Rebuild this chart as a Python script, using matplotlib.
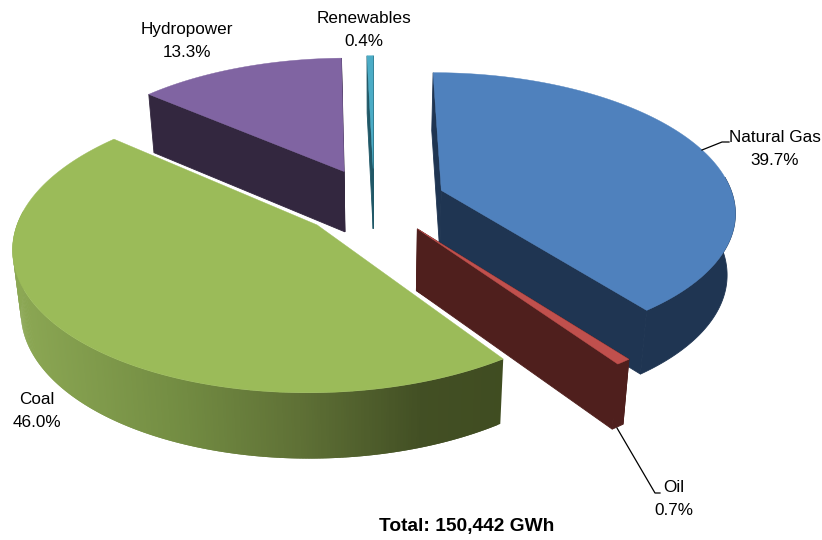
import numpy as np
import matplotlib
matplotlib.use("Agg")
import matplotlib.pyplot as plt
from matplotlib.patches import Polygon

plt.rcParams['font.family'] = ['Liberation Sans', 'DejaVu Sans']

# generation mix, clockwise from twelve o'clock
fuels = ['Natural Gas', 'Oil', 'Coal', 'Hydropower', 'Renewables']
shares = [39.7, 0.7, 46.0, 13.3, 0.4]
total_label = 'Total: 150,442 GWh'

top_colors = ['#4f81bd', '#c0504d', '#9bbb59', '#8064a2', '#4bacc6']
side_colors = ['#1f3552', '#4f1f1d', None, '#33273f', '#205867']
explode = [0.245, 0.245, 0.255, 0.245, 0.245]

# coal wall is shaded left to right
coal_stops_x = [15, 180, 300, 420, 505]
coal_stops_rgb = [(0.55, 0.66, 0.33), (0.45, 0.55, 0.26), (0.37, 0.44, 0.21),
                  (0.26, 0.31, 0.14), (0.25, 0.30, 0.13)]

# projection of the tilted disc, in pixels
CX, CY = 374, 201
A, B = 293, 137
P = 0.14        # perspective strength
DEPTH = 61
SHRINK = 0.977  # lower rim is a bit narrower

draw_order = [3, 4, 0, 1, 2]

label_pos = {
    'Natural Gas': (775, 149),
    'Oil': (674, 499),
    'Coal': (37, 411),
    'Hydropower': (187, 41),
    'Renewables': (364, 30),
}


def project(x, y, lower=False):
    s = 1 / (1 + P * y)
    px = CX + A * x * s
    py = CY - B * y * s
    if lower:
        px = CX + (px - CX) * SHRINK
        py = py + DEPTH * (1 + 0.4 * (s - 1))
    return np.column_stack([px, py])


def coal_shade(px):
    return tuple(np.interp(px, coal_stops_x, [c[k] for c in coal_stops_rgb]) for k in range(3))


def draw_slice(ax, start, end, offset, top, side):
    mid = (start + end) / 2
    ox = offset * np.sin(mid)
    oy = offset * np.cos(mid)
    n = max(int((end - start) * 120), 6)
    t = np.linspace(start, end, n)
    x = ox + np.sin(t)
    y = oy + np.cos(t)

    rim_up = project(x, y)
    rim_lo = project(x, y, lower=True)
    apex_up = project(np.array([ox]), np.array([oy]))
    apex_lo = project(np.array([ox]), np.array([oy]), lower=True)
    face = np.vstack([apex_up, rim_up])
    face_patch = Polygon(face, closed=True, fc=top, ec=top, lw=0.3)

    # radial cut faces, skipped when they sit behind the top of the slice
    for i in (0, -1):
        quad = np.vstack([apex_up, rim_up[[i]], rim_lo[[i]], apex_lo])
        edge_mid = (apex_lo[0] + rim_lo[i]) / 2
        if face_patch.get_path().contains_point(edge_mid):
            continue
        c = side if side is not None else coal_shade(quad[:, 0].max())
        ax.add_patch(Polygon(quad, closed=True, fc=c, ec=c, lw=0.6))

    # outer wall, only the part of the rim that faces the viewer
    front = np.cos(t) < 0.1
    rim_up = rim_up[front]
    rim_lo = rim_lo[front]
    if len(rim_up) > 1:
        if side is not None:
            wall = np.vstack([rim_up, rim_lo[::-1]])
            ax.add_patch(Polygon(wall, closed=True, fc=side, ec=side, lw=0.6))
        else:
            # overlapping strips so the gradient shows no seams
            for i in range(len(rim_up) - 1):
                quad = np.vstack([rim_up[i:i + 3], rim_lo[i:i + 3][::-1]])
                c = coal_shade(quad[:, 0].mean())
                ax.add_patch(Polygon(quad, closed=True, fc=c, ec='none', lw=0))

    ax.add_patch(face_patch)


fig = plt.figure(figsize=(8.22, 5.4), dpi=100)
ax = fig.add_axes([0, 0, 1, 1])
ax.set_xlim(0, 822)
ax.set_ylim(540, 0)
ax.axis('off')

bounds = np.concatenate([[0], np.cumsum(shares)]) / np.sum(shares) * 2 * np.pi
for i in draw_order:
    draw_slice(ax, bounds[i], bounds[i + 1], explode[i], top_colors[i], side_colors[i])

# leader lines
ax.plot([702, 722, 729], [150, 142, 142], color='black', lw=0.9)
ax.plot([617, 655, 660], [428, 493, 493], color='black', lw=0.9)

for name, share in zip(fuels, shares):
    lx, ly = label_pos[name]
    ax.text(lx, ly, f'{name}\n{share:.1f}%', ha='center', va='center',
            fontsize=12.3, linespacing=1.72, color='black')

ax.text(467, 526, total_label, ha='center', va='center', fontsize=13.8,
        fontweight='bold', color='black')

fig.savefig('out.png', dpi=100)
